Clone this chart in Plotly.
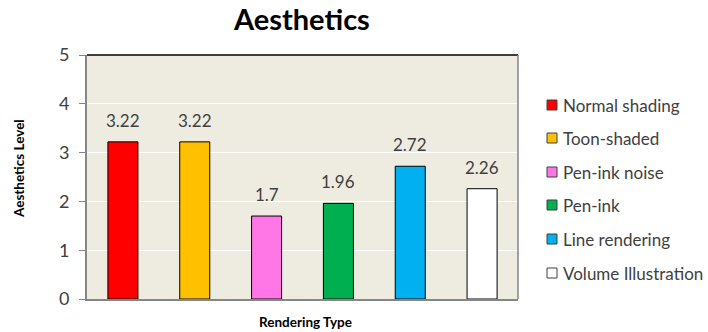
import plotly.graph_objects as go

categories = ["Normal shading", "Toon-shaded", "Pen-ink noise", "Pen-ink", "Line rendering", "Volume Illustration"]
values = [3.22, 3.22, 1.7, 1.96, 2.72, 2.26]
labels = ["3.22", "3.22", "1.7", "1.96", "2.72", "2.26"]
colors = ["#FF0000", "#FFC000", "#FF77E6", "#00B050", "#00B0F0", "#FFFFFF"]
y_ticks = [0, 1, 2, 3, 4, 5]

FONT = "Lato, Carlito, Calibri, sans-serif"

W, H = 708, 332
L, R, T, B = 87, 190, 55, 33
PW, PH = W - L - R, H - T - B


def px_x(x):
    return (x - L) / PW


def px_y(y):
    return (H - B - y) / PH


fig = go.Figure()
annotations = []
shapes = []
for i, (cat, val, lab, col) in enumerate(zip(categories, values, labels, colors)):
    fig.add_trace(go.Bar(
        x=[i], y=[val], name=cat, width=0.418,
        marker=dict(color=col, line=dict(color="#000000", width=1)),
        showlegend=False,
    ))
    annotations.append(dict(
        x=i, y=val, xref="x", yref="y", text=lab, showarrow=False,
        yanchor="bottom", yshift=9,
        font=dict(size=17, color="#404040", family=FONT),
    ))

# manual legend
leg_y = [105, 138, 172, 205, 239, 273]
for cat, col, yy in zip(categories, colors, leg_y):
    shapes.append(dict(
        type="rect", xref="paper", yref="paper",
        x0=px_x(547), x1=px_x(557), y0=px_y(yy + 5), y1=px_y(yy - 5),
        fillcolor=col, line=dict(color="#404040", width=1),
    ))
    annotations.append(dict(
        text=cat, xref="paper", yref="paper", x=px_x(561), y=px_y(yy),
        xanchor="left", yanchor="middle", showarrow=False,
        font=dict(size=17, color="#404040", family=FONT),
    ))

annotations += [
    dict(text="<b>Aesthetics</b>", x=px_x(301), xref="paper", y=px_y(18), yref="paper",
         showarrow=False, xanchor="center", yanchor="middle",
         font=dict(size=29, color="#000000", family=FONT)),
    dict(text="<b>Aesthetics Level</b>", xref="paper", yref="paper", x=px_x(19), y=px_y(169),
         xanchor="center", yanchor="middle",
         textangle=-90, showarrow=False, font=dict(size=13.5, color="#000000", family=FONT)),
    dict(text="<b>Rendering Type</b>", xref="paper", yref="paper", x=px_x(305), y=px_y(322),
         showarrow=False, xanchor="center", yanchor="middle",
         font=dict(size=13.5, color="#000000", family=FONT)),
]

shapes += [
    dict(type="line", xref="paper", yref="paper", x0=0, x1=1, y0=1, y1=1,
         line=dict(color="#000000", width=1.5)),
    dict(type="line", xref="paper", yref="paper", x0=1, x1=1, y0=0, y1=1,
         line=dict(color="#868686", width=1.5)),
]

fig.update_layout(
    width=W, height=H,
    margin=dict(l=L, r=R, t=T, b=B),
    paper_bgcolor="white", plot_bgcolor="#EEECE1",
    barmode="overlay",
    font=dict(family=FONT, color="#404040"),
    showlegend=False,
    xaxis=dict(range=[-0.5, 5.5], showticklabels=False, ticks="", showgrid=False,
               zeroline=False, showline=True, linecolor="#868686", linewidth=2,
               fixedrange=True),
    yaxis=dict(range=[0, 5], tickvals=y_ticks, ticks="outside", ticklen=6, tickcolor="#868686",
               showgrid=True, gridcolor="#FFFFFF", gridwidth=1, zeroline=False,
               showline=True, linecolor="#868686", linewidth=2,
               ticklabelstandoff=6,
               tickfont=dict(size=18, color="#404040", family=FONT)),
    annotations=annotations,
    shapes=shapes,
)

fig.write_html("out.html")
